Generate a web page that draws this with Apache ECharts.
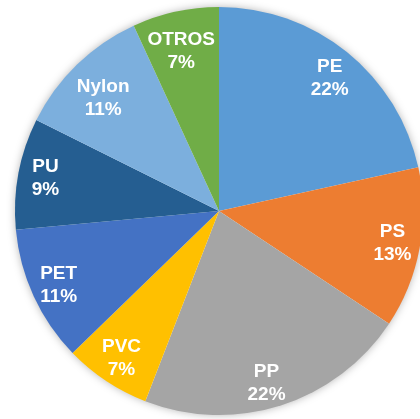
<!DOCTYPE html>
<html>
<head>
<meta charset="utf-8">
<style>
  html, body { margin: 0; padding: 0; background: #fff; }
  #chart { width: 420px; height: 419px; }
</style>
<script src="https://cdn.jsdelivr.net/npm/echarts@6/dist/echarts.min.js"></script>
</head>
<body>
<div id="chart"></div>
<script>
// plastics share, clockwise from 12 o'clock
const materials = ["PE", "PS", "PP", "PVC", "PET", "PU", "Nylon", "OTROS"];
const shares = [22, 13, 22, 7, 11, 9, 11, 7];
const colors = ["#5b9bd5", "#ed7d31", "#a5a5a5", "#ffc000", "#4472c4", "#255e91", "#7cafdd", "#70ad47"];

// small nudges where the original's labels sit off the mid-angle
const labelShift = { OTROS: [0, 13], Nylon: [7, 14], PP: [-6, 4], PE: [0, 5] };

const chart = echarts.init(document.getElementById("chart"), null, { renderer: "canvas" });

const center = [219, 211];

chart.setOption({
  animation: false,
  series: [
    {
      // soft shadow behind the pie
      type: "pie",
      center: center,
      radius: [0, 203],
      silent: true,
      z: 1,
      label: { show: false },
      itemStyle: {
        color: "#ffffff",
        shadowBlur: 10,
        shadowColor: "rgba(0,0,0,0.35)",
      },
      data: [{ value: 1, name: "bg" }],
    },
    {
      type: "pie",
      center: center,
      radius: [0, 204],
      startAngle: 90,
      clockwise: true,
      z: 2,
      label: { show: false },
      labelLine: { show: false },
      itemStyle: { borderWidth: 0 },
      data: materials.map((name, i) => ({
        name: name,
        value: shares[i],
        itemStyle: { color: colors[i] },
      })),
    },
    {
      // transparent ring just for placing the labels out near the rim
      type: "pie",
      center: center,
      radius: [143, 204],
      startAngle: 90,
      clockwise: true,
      silent: true,
      z: 3,
      itemStyle: { color: "rgba(0,0,0,0)" },
      label: {
        show: true,
        position: "inside",
        formatter: (p) => p.name + "\n" + p.value + "%",
        color: "#ffffff",
        fontFamily: "Liberation Sans, Arial, sans-serif",
        fontWeight: "bold",
        fontSize: 19,
        lineHeight: 23,
      },
      labelLine: { show: false },
      data: materials.map((name, i) => ({
        name: name,
        value: shares[i],
        label: labelShift[name] ? { offset: labelShift[name] } : {},
      })),
    },
  ],
});
</script>
</body>
</html>
